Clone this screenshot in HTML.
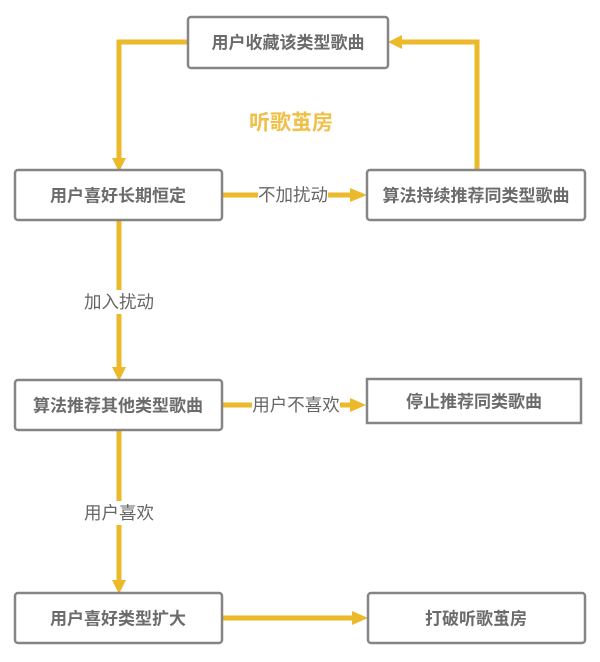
<!DOCTYPE html>
<html><head><meta charset="utf-8"><style>
html,body{margin:0;padding:0;background:#fff;}
svg{display:block;}
.b{fill:#fff;stroke:#858585;stroke-width:2.5;}
.t{font-family:"Liberation Sans","Noto Sans CJK SC",sans-serif;font-size:17px;font-weight:bold;fill:#6b6b6b;text-anchor:middle;dominant-baseline:central;}
.l{font-family:"Liberation Sans","Noto Sans CJK SC",sans-serif;font-size:17.5px;fill:#666;text-anchor:middle;dominant-baseline:central;}
.ln{stroke:#ebb92a;stroke-width:5;fill:none;}
.ah{fill:#ebb92a;}
</style></head><body>
<svg width="600" height="662" viewBox="0 0 600 662" xmlns="http://www.w3.org/2000/svg">
<polyline class="ln" points="188,42 119,42 119,160"/>
<polygon class="ah" points="112,158 126,158 119,172"/>
<polyline class="ln" points="477,170 477,42 400,42"/>
<polygon class="ah" points="402,35 402,49 388,42"/>
<line class="ln" x1="222" y1="195" x2="354" y2="195"/>
<polygon class="ah" points="350,188 350,202 367,195"/>
<line class="ln" x1="119" y1="220" x2="119" y2="370"/>
<polygon class="ah" points="112,367 126,367 119,381"/>
<line class="ln" x1="222" y1="405" x2="354" y2="405"/>
<polygon class="ah" points="350,398 350,412 366,405"/>
<line class="ln" x1="119" y1="430" x2="119" y2="583"/>
<polygon class="ah" points="112,580 126,580 119,594"/>
<line class="ln" x1="222" y1="618" x2="356" y2="618"/>
<polygon class="ah" points="352,611 352,625 368,618"/>
<rect x="258" y="184" width="70" height="22" fill="#fff"/>
<rect x="83" y="290" width="72" height="24" fill="#fff"/>
<rect x="252" y="394" width="88" height="22" fill="#fff"/>
<rect x="83" y="501" width="72" height="24" fill="#fff"/>
<rect class="b" x="188" y="17" width="200" height="51" rx="3"/>
<text class="t" x="288" y="43">用户收藏该类型歌曲</text>
<text x="291" y="123" font-family="Liberation Sans,Noto Sans CJK SC,sans-serif" font-size="21" font-weight="bold" fill="#f0c04a" text-anchor="middle" dominant-baseline="central">听歌茧房</text>
<rect class="b" x="15" y="170" width="207" height="50" rx="3"/>
<text class="t" x="118" y="196">用户喜好长期恒定</text>
<rect class="b" x="367" y="170" width="218" height="50" rx="3"/>
<text class="t" x="476" y="196">算法持续推荐同类型歌曲</text>
<rect class="b" x="15" y="380" width="207" height="50" rx="3"/>
<text class="t" x="118" y="406">算法推荐其他类型歌曲</text>
<rect class="b" x="367" y="379" width="214" height="44"/>
<text class="t" x="474" y="402">停止推荐同类歌曲</text>
<rect class="b" x="15" y="593" width="207" height="50" rx="3"/>
<text class="t" x="118" y="619">用户喜好类型扩大</text>
<rect class="b" x="368" y="593" width="217" height="50" rx="3"/>
<text class="t" x="476" y="619">打破听歌茧房</text>
<text class="l" x="293" y="195">不加扰动</text>
<text class="l" x="119" y="302">加入扰动</text>
<text class="l" x="296" y="405">用户不喜欢</text>
<text class="l" x="119" y="513">用户喜欢</text>
</svg>
</body></html>
